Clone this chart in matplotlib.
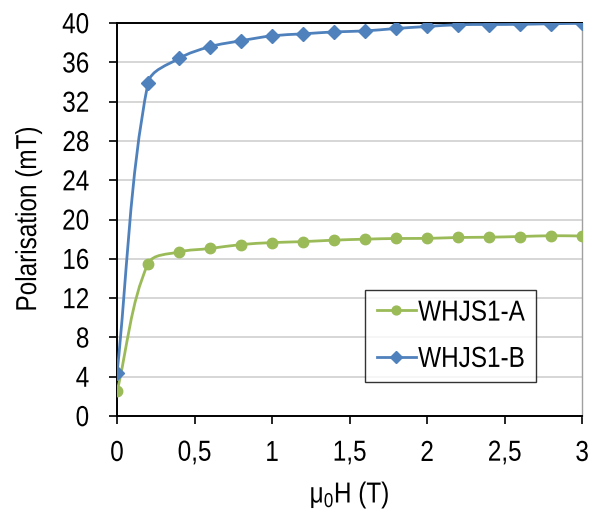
import numpy as np
import matplotlib
matplotlib.use("Agg")
import matplotlib.pyplot as plt
from matplotlib.path import Path
from matplotlib.patches import PathPatch
from matplotlib.patheffects import AbstractPathEffect
from matplotlib.transforms import Affine2D

plt.rcParams['font.family'] = ['Liberation Sans', 'DejaVu Sans']
plt.rcParams['mathtext.default'] = 'regular'
plt.rcParams['mathtext.fontset'] = 'custom'
plt.rcParams['mathtext.rm'] = 'Liberation Sans'

field = [0.0, 0.2, 0.4, 0.6, 0.8, 1.0, 1.2, 1.4, 1.6, 1.8, 2.0, 2.2, 2.4, 2.6, 2.8, 3.0]
pol_a = [2.5, 15.5, 16.7, 17.05, 17.45, 17.65, 17.75, 17.9, 18.0, 18.07, 18.08, 18.17, 18.2, 18.27, 18.35, 18.32]
pol_b = [4.35, 33.9, 36.4, 37.6, 38.2, 38.7, 38.9, 39.1, 39.2, 39.45, 39.65, 39.83, 39.85, 39.87, 39.93, 39.97]
labels = ['WHJS1-A', 'WHJS1-B']
xticks = [0, 0.5, 1, 1.5, 2, 2.5, 3]
xticklabels = ['0', '0,5', '1', '1,5', '2', '2,5', '3']
yticks = list(range(0, 41, 4))

green = '#9BBB59'
blue = '#4F81BD'
FS = 17.5


class Tall(AbstractPathEffect):
    """Stretch glyphs along their own vertical axis (narrow-font look)."""
    def __init__(self, sy=1.19):
        super().__init__()
        self.sy = sy

    def draw_path(self, renderer, gc, tpath, affine, rgbFace=None):
        ext = tpath.get_extents()
        cy = 0.5 * (ext.y0 + ext.y1)
        pre = Affine2D().translate(0, -cy).scale(1, self.sy).translate(0, cy)
        renderer.draw_path(gc, tpath, pre + affine, rgbFace)


fig = plt.figure(figsize=(5.91, 5.17), dpi=100)
ax = fig.add_axes([0.198, 0.1954, 0.787, 0.760])
ax.set_xlim(0, 3)
ax.set_ylim(0, 40)

# screen scale (px per data unit) from the axes
bb = ax.get_position()
sx = bb.width * fig.get_figwidth() * fig.dpi / 3.0
sy_ = bb.height * fig.get_figheight() * fig.dpi / 40.0


def smooth_path(x, y):
    X = np.asarray(x, float) * sx
    Y = np.asarray(y, float) * sy_
    n = len(X)
    P = np.column_stack([X, Y])
    verts = [tuple(P[0])]
    codes = [Path.MOVETO]
    for i in range(n - 1):
        p0 = P[max(i - 1, 0)]
        p1 = P[i]
        p2 = P[i + 1]
        p3 = P[min(i + 2, n - 1)]
        seg = np.linalg.norm(p2 - p1)
        d1 = p2 - p0
        d1 = d1 / np.linalg.norm(d1)
        d2 = p3 - p1
        d2 = d2 / np.linalg.norm(d2)
        c1 = p1 + d1 * seg / 3
        c2 = p2 - d2 * seg / 3
        verts += [tuple(c1), tuple(c2), tuple(p2)]
        codes += [Path.CURVE4] * 3
    V = np.array(verts)
    V[:, 0] /= sx
    V[:, 1] /= sy_
    return Path(V, codes)


for ys, col, mk, ms, lab in [(pol_a, green, 'o', 7.5, labels[0]),
                             (pol_b, blue, 'D', 7, labels[1])]:
    ax.add_patch(PathPatch(smooth_path(field, ys), fill=False, edgecolor=col,
                           lw=2, zorder=3))
    ax.plot(field, ys, linestyle='none', marker=mk, ms=ms, color=col, zorder=4)
    ax.plot([], [], color=col, lw=2, marker=mk, ms=ms * 0.85, label=lab)

ax.set_xticks(xticks)
ax.set_xticklabels(xticklabels)
ax.set_yticks(yticks)
ax.grid(axis='y', color='#D0D0D0', lw=1.2)
ax.set_axisbelow(True)
ax.tick_params(direction='out', length=6, width=1.2, labelsize=FS, color='black')
ax.tick_params(axis='x', pad=13)
ax.tick_params(axis='y', pad=14)
for s in ['left', 'bottom', 'top']:
    ax.spines[s].set_color('black')
    ax.spines[s].set_linewidth(1.4)
ax.spines['right'].set_color('#A0A0A0')
ax.spines['right'].set_linewidth(1)

xl = ax.set_xlabel('μ$_0$H (T)', fontsize=FS, labelpad=13)
yl = ax.set_ylabel('Polarisation (mT)', fontsize=FS, labelpad=16)

leg = ax.legend(loc='lower right', bbox_to_anchor=(0.901, 0.0865), fontsize=FS,
                frameon=True, fancybox=False, edgecolor='black',
                handlelength=1.6, handletextpad=0.1, borderpad=0.48,
                labelspacing=1.0, borderaxespad=0)
leg.get_frame().set_linewidth(1)

for t in (list(ax.get_xticklabels()) + list(ax.get_yticklabels())
          + list(leg.get_texts()) + [xl, yl]):
    t.set_path_effects([Tall(1.19)])

fig.savefig('out.png', dpi=100)
